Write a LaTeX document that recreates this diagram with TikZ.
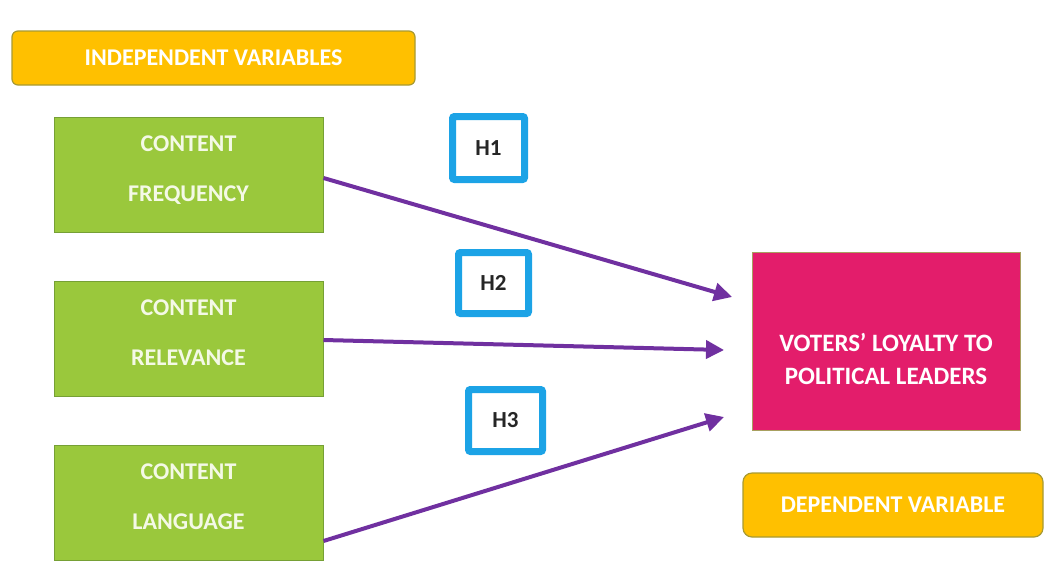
\documentclass[tikz,border=0pt]{standalone}
\usepackage{fontspec}
\setmainfont{Carlito}
\usetikzlibrary{arrows.meta}
\definecolor{gold}{HTML}{FFC000}
\definecolor{goldedge}{HTML}{A89A32}
\definecolor{grn}{HTML}{9AC83C}
\definecolor{grnedge}{HTML}{76A035}
\definecolor{pinkf}{HTML}{E31D6B}
\definecolor{pinkedge}{HTML}{A8A060}
\definecolor{hblue}{HTML}{1CA3E6}
\definecolor{purp}{HTML}{7030A0}
\definecolor{txtw}{HTML}{F4F9E6}
\tikzset{
  goldbox/.style={draw=goldedge, line width=1.2pt, fill=gold, rounded corners=6pt, text=white, font=\bfseries\fontsize{24}{28}\selectfont},
  varbox/.style={draw=grnedge, line width=1pt, fill=grn, minimum width=269pt, minimum height=115pt},
  vartext/.style={text=txtw, font=\bfseries\fontsize{24}{50}\selectfont, align=center},
  hbox/.style={draw=hblue, line width=7pt, fill=white, rounded corners=2pt, text=black!85, font=\bfseries\fontsize{23}{26}\selectfont},
  depbox/.style={draw=pinkedge, line width=1pt, fill=pinkf},
  deptext/.style={text=white, font=\bfseries\fontsize{25}{33}\selectfont, align=center},
  link/.style={draw=purp, line width=4pt, -{Triangle[length=18pt,width=18pt]}}
}
\begin{document}
\begin{tikzpicture}[x=1pt,y=-1pt]
\useasboundingbox (0,0) rectangle (1051,560);
% independent header
\node[goldbox, minimum width=403pt, minimum height=54pt] (indep) at (213.5,58) {INDEPENDENT VARIABLES};
% green variable boxes
\node[varbox] (freq) at (188.5,174.5) {};
\node[vartext] (freqt) at ([yshift=4pt]freq.center) {CONTENT\\FREQUENCY};
\node[varbox] (rel) at (188.5,338.5) {};
\node[vartext] (relt) at ([yshift=6pt]rel.center) {CONTENT\\RELEVANCE};
\node[varbox] (lang) at (188.5,502.5) {};
\node[vartext] (langt) at ([yshift=6pt]lang.center) {CONTENT\\LANGUAGE};
% hypothesis boxes
\node[hbox, minimum width=72pt, minimum height=63pt] (h1) at (488.5,148) {H1};
\node[hbox, minimum width=70pt, minimum height=61pt] (h2) at (493.5,283) {H2};
\node[hbox, minimum width=74pt, minimum height=62pt] (h3) at (505.5,420.5) {H3};
% dependent variable
\node[depbox, minimum width=268pt, minimum height=178pt] (loyal) at (886,341) {};
\node[deptext] (loyalt) at ([yshift=-18pt]loyal.center) {VOTERS’ LOYALTY TO\\POLITICAL LEADERS};
\node[goldbox, minimum width=300pt, minimum height=64pt, rounded corners=9pt] (dep) at (893,505) {DEPENDENT VARIABLE};
% connectors
\coordinate (e1) at (732,297);
\coordinate (e2) at (724,350);
\coordinate (e3) at (724,417);
\draw[link] (freq.east |- 0,178) -- (e1);
\draw[link] (rel.east |- 0,340) -- (e2);
\draw[link] (lang.east |- 0,541) -- (e3);
\end{tikzpicture}
\end{document}
